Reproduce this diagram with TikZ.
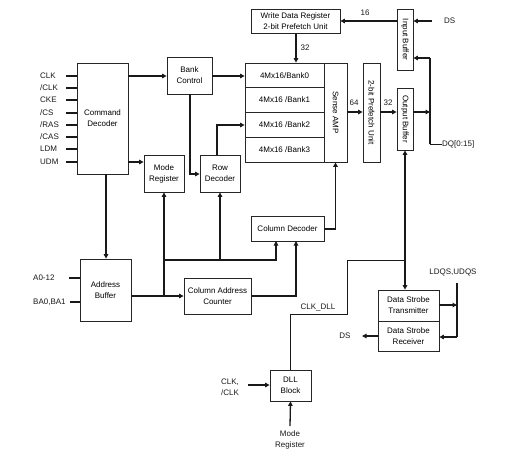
\documentclass[tikz,border=0pt]{standalone}
\usepackage{fontspec}
\setmainfont{Liberation Sans}
\usetikzlibrary{arrows.meta}
\begin{document}
\begin{tikzpicture}[x=1pt,y=-1pt,
  font=\fontsize{8}{11}\selectfont,
  box/.style={draw=black!85, line width=0.8pt, inner sep=0pt, align=center, fill=white},
  wire/.style={line width=1.3pt, black!90},
  thin/.style={line width=0.8pt, black!90},
  arr/.style={-{Triangle[length=4.5pt,width=4.5pt]}},
  lbl/.style={inner sep=0pt, text=black!90}]
\useasboundingbox (0,0) rectangle (510,475);

% boxes
\node[box, minimum width=51pt, minimum height=111pt] (cmd) at (102.5,118.5) {Command\\Decoder};
\node[box, minimum width=45pt, minimum height=37pt] (bank) at (189.5,75.5) {Bank\\Control};
\node[box, minimum width=40pt, minimum height=37pt] (mode) at (164,173.5) {Mode\\Register};
\node[box, minimum width=40pt, minimum height=37pt] (row) at (220,173.5) {Row\\Decoder};
\node[box, minimum width=89pt, minimum height=24pt] (wdr) at (295.5,21) {Write Data Register\\2-bit Prefetch Unit};
\node[box, minimum width=16pt, minimum height=61pt] (inbuf) at (405,39.5) {\rotatebox{-90}{Input Buffer}};
\node[box, minimum width=79pt, minimum height=24.75pt] (b0) at (284.5,75.4) {4Mx16/Bank0};
\node[box, minimum width=79pt, minimum height=24.75pt] (b1) at (284.5,100.1) {4Mx16 /Bank1};
\node[box, minimum width=79pt, minimum height=24.75pt] (b2) at (284.5,124.9) {4Mx16 /Bank2};
\node[box, minimum width=79pt, minimum height=24.75pt] (b3) at (284.5,149.6) {4Mx16 /Bank3};
\node[box, minimum width=23pt, minimum height=99pt] (sense) at (335.5,112.5) {\rotatebox{-90}{Sense AMP}};
\node[box, minimum width=17pt, minimum height=99pt] (pref) at (371.5,112.5) {\rotatebox{-90}{2-bit Prefetch Unit}};
\node[box, minimum width=16pt, minimum height=62pt] (outbuf) at (405,119) {\rotatebox{-90}{Output Buffer}};
\node[box, minimum width=73pt, minimum height=25pt] (coldec) at (287.5,228.5) {Column Decoder};
\node[box, minimum width=51pt, minimum height=62pt] (addr) at (105.5,290) {Address\\Buffer};
\node[box, minimum width=67pt, minimum height=36pt] (cac) at (217.5,296) {Column Address\\Counter};
\node[box, minimum width=61pt, minimum height=31pt] (dst) at (408.5,305.5) {Data Strobe\\Transmitter};
\node[box, minimum width=61pt, minimum height=30pt] (dsr) at (408.5,336) {Data Strobe\\Receiver};
\node[box, minimum width=41pt, minimum height=31pt] (dll) at (290.5,385.5) {DLL\\Block};

% command pins
\foreach \t/\y/\n in {{CLK}/76/1, {/CLK}/88/2, {CKE}/100/3, {/CS}/113/4, {/RAS}/125/5, {/CAS}/137/6, {LDM}/149/7, {UDM}/162/8}{
  \node[lbl, anchor=west] (pl\n) at (40,\y) {\t};
  \coordinate (pp\n) at (66,\y);
  \draw[wire] (pp\n) -- (pp\n -| cmd.west);
}

% address pins
\node[lbl, anchor=west] (la) at (33,278) {A0-12};
\coordinate (pa) at (69,278);
\draw[wire] (pa) -- (pa -| addr.west);
\node[lbl, anchor=west] (lb) at (33,302) {BA0,BA1};
\coordinate (pb) at (70,302);
\draw[wire] (pb) -- (pb -| addr.west);

% command decoder outputs
\coordinate (c1) at (128,76);
\draw[wire,arr] (c1) -- (c1 -| bank.west);
\coordinate (c2) at (128,162);
\draw[wire,arr] (c2) -- (c2 -| mode.west);
\coordinate (c3) at (106,174);
\draw[wire,arr] (c3) -- (c3 |- addr.north);

% bank control
\coordinate (bc1) at (190,94);
\draw[wire,arr] (bc1) -- (190,174) -- (row.west |- 0,174);
\coordinate (bc2) at (212,76);
\draw[wire,arr] (bc2) -- (bc2 -| b0.west);
% row decoder to bank2
\coordinate (rd1) at (217,155);
\draw[wire,arr] (rd1) -- (217,125) -- (b2.west |- 0,125);

% write data register
\coordinate (w1) at (296,33);
\draw[wire,arr] (w1) -- (w1 |- b0.north);
\node[lbl] (n32a) at (305,48) {32};
\coordinate (ib1) at (397,21);
\draw[wire,arr] (ib1) -- (ib1 -| wdr.east);
\node[lbl] (n16) at (365,13) {16};
\coordinate (ds1) at (432,21);
\draw[wire,arr] (ds1) -- (ds1 -| inbuf.east);
\node[lbl, anchor=west] (lds1) at (444,21) {DS};

% data path
\coordinate (s1) at (347,112);
\draw[wire,arr] (s1) -- (s1 -| pref.west);
\node[lbl] (n64) at (354,103) {64};
\coordinate (p1) at (380,112);
\draw[wire,arr] (p1) -- (p1 -| outbuf.west);
\node[lbl] (n32b) at (388,103) {32};
\coordinate (o1) at (413,112);
\coordinate (jq) at (430,112);
\draw[wire,arr] (o1) -- (jq);
\coordinate (jtop) at (430,58);
\coordinate (jbot) at (430,144);
\draw[wire] (jtop) -- (jbot);
\draw[wire,arr] (jtop) -- (jtop -| inbuf.east);
\coordinate (dqend) at (442,144);
\draw[thin] (jbot) -- (dqend);
\node[lbl, anchor=west] (ldq) at (dqend) {DQ[0:15]};

% column decoder to sense amp
\coordinate (cd1) at (324,229);
\draw[wire,arr] (cd1) -- (335.5,229) -- (sense.south);

% address buffer
\coordinate (ab1) at (131,296);
\draw[wire,arr] (ab1) -- (ab1 -| cac.west);
\coordinate (jm) at (164,296);
\draw[wire,arr] (jm) -- (mode.south);
\coordinate (jh) at (164,260);
\draw[wire,arr] (jh) -- (276,260) -- (276,241);
\coordinate (jr) at (220,260);
\draw[wire,arr] (jr) -- (row.south);
\coordinate (ca1) at (251,296);
\draw[wire,arr] (ca1) -- (296,296) -- (296,241);

% output buffer <-> data strobe
\draw[wire,{Triangle[length=4.5pt,width=4.5pt]}-{Triangle[length=4.5pt,width=4.5pt]}] (outbuf.south) -- (outbuf.south |- dst.north);
\coordinate (dl1) at (290,370);
\draw[thin] (dl1) -- (290,314) -- (347,314) -- (347,260) -- (405,260);
\node[lbl] (lclk) at (318,307) {CLK\_DLL};

% data strobe
\coordinate (t1) at (439,305);
\coordinate (vq1) at (457,283);
\coordinate (vq2) at (457,337);
\draw[wire] (vq1) -- (vq2);
\draw[wire,arr] (t1) -- (t1 -| vq1);
\draw[wire,arr] (vq2) -- (vq2 -| dsr.east);
\node[lbl] (lqs) at (453,272) {LDQS,UDQS};
\coordinate (r1) at (378,336);
\coordinate (r2) at (362,336);
\draw[wire,arr] (r1) -- (r2);
\node[lbl] (lds2) at (345,336) {DS};

% DLL
\node[lbl, align=left] (lck) at (230,387) {CLK,\\/CLK};
\coordinate (k1) at (248,385);
\draw[wire,arr] (k1) -- (k1 -| dll.west);
\node[lbl, align=center] (lmr) at (290,440) {Mode\\Register};
\coordinate (m1) at (290,426);
\draw[wire,arr] (m1) -- (dll.south);
\end{tikzpicture}
\end{document}
